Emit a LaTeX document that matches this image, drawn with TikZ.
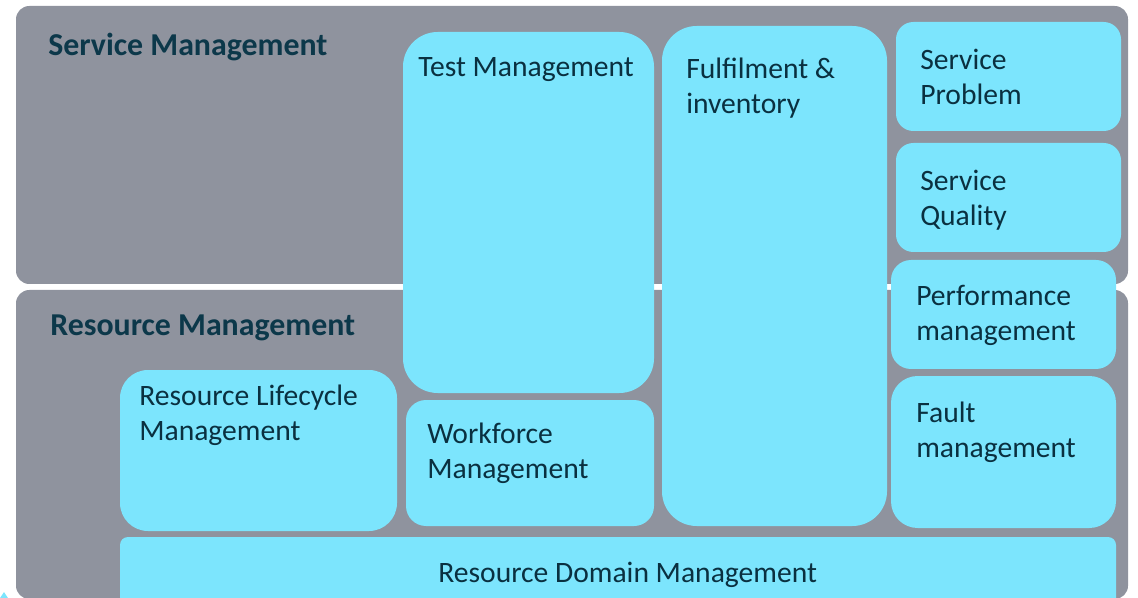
\documentclass[tikz,border=0pt]{standalone}
\usepackage{fontspec}
\setmainfont{Carlito}
\usetikzlibrary{fit}
\definecolor{panelgrey}{RGB}{143,147,158}
\definecolor{boxcyan}{RGB}{124,229,253}
\definecolor{textdark}{RGB}{10,48,64}
\definecolor{titledark}{RGB}{12,56,74}
\tikzset{
  panel/.style={fill=panelgrey, inner sep=0pt, outer sep=0pt, rounded corners=10pt},
  cbox/.style={fill=boxcyan, inner sep=0pt, outer sep=0pt},
  title/.style={anchor=base west, inner sep=0pt, text=titledark, font=\fontsize{23.9pt}{28pt}\selectfont\bfseries},
  label/.style={anchor=base west, inner sep=0pt, align=left, text=textdark, font=\fontsize{22.2pt}{26.25pt}\selectfont},
}
\begin{document}
\begin{tikzpicture}[x=0.75pt, y=-0.75pt]
\useasboundingbox (0,0) rectangle (1138,598);
% panels
\node[panel, fit={(16,6) (1128,284)}] (svc) {};
\node[panel, fit={(16,290) (1128,599)}] (res) {};
\fill[boxcyan] (0,598) -- (4,592) -- (8,598) -- cycle;
% boxes
\node[cbox, rounded corners=21pt, fit={(120,370) (397,531)}] (rlc) {};
\node[cbox, rounded corners=26pt, fit={(403,32) (654,393)}] (tm) {};
\node[cbox, rounded corners=15pt, fit={(406,400) (654,526)}] (wf) {};
\node[cbox, rounded corners=26pt, fit={(662,26) (887,526)}] (ful) {};
\node[cbox, rounded corners=13pt, fit={(896,22) (1121,131)}] (sp) {};
\node[cbox, rounded corners=13pt, fit={(896,143) (1121,252)}] (sq) {};
\node[cbox, rounded corners=15pt, fit={(891,260) (1116,369)}] (pm) {};
\node[cbox, rounded corners=20pt, fit={(891,376) (1116,528)}] (fm) {};
\node[cbox, rounded corners=6pt, fit={(120,537) (1116,606)}] (rdm) {};
% texts (base anchor = baseline of the last line)
\node[title] (svct) at (48,56) {Service Management};
\node[title] (rest) at (50,335) {Resource Management};
\node[label] (tmt) at (418,77) {Test Management};
\node[label] (fult) at (686,114) {Fulfilment \&\\inventory};
\node[label] (spt) at (920,105) {Service\\Problem};
\node[label] (sqt) at (920,226) {Service\\Quality};
\node[label] (pmt) at (916,341) {Performance\\management};
\node[label] (fmt) at (916,457) {Fault\\management};
\node[label] (rlct) at (139,440) {Resource Lifecycle\\Management};
\node[label] (wft) at (427,478) {Workforce\\Management};
\node[label] (rdmt) at (438,582) {Resource Domain Management};
\end{tikzpicture}
\end{document}
